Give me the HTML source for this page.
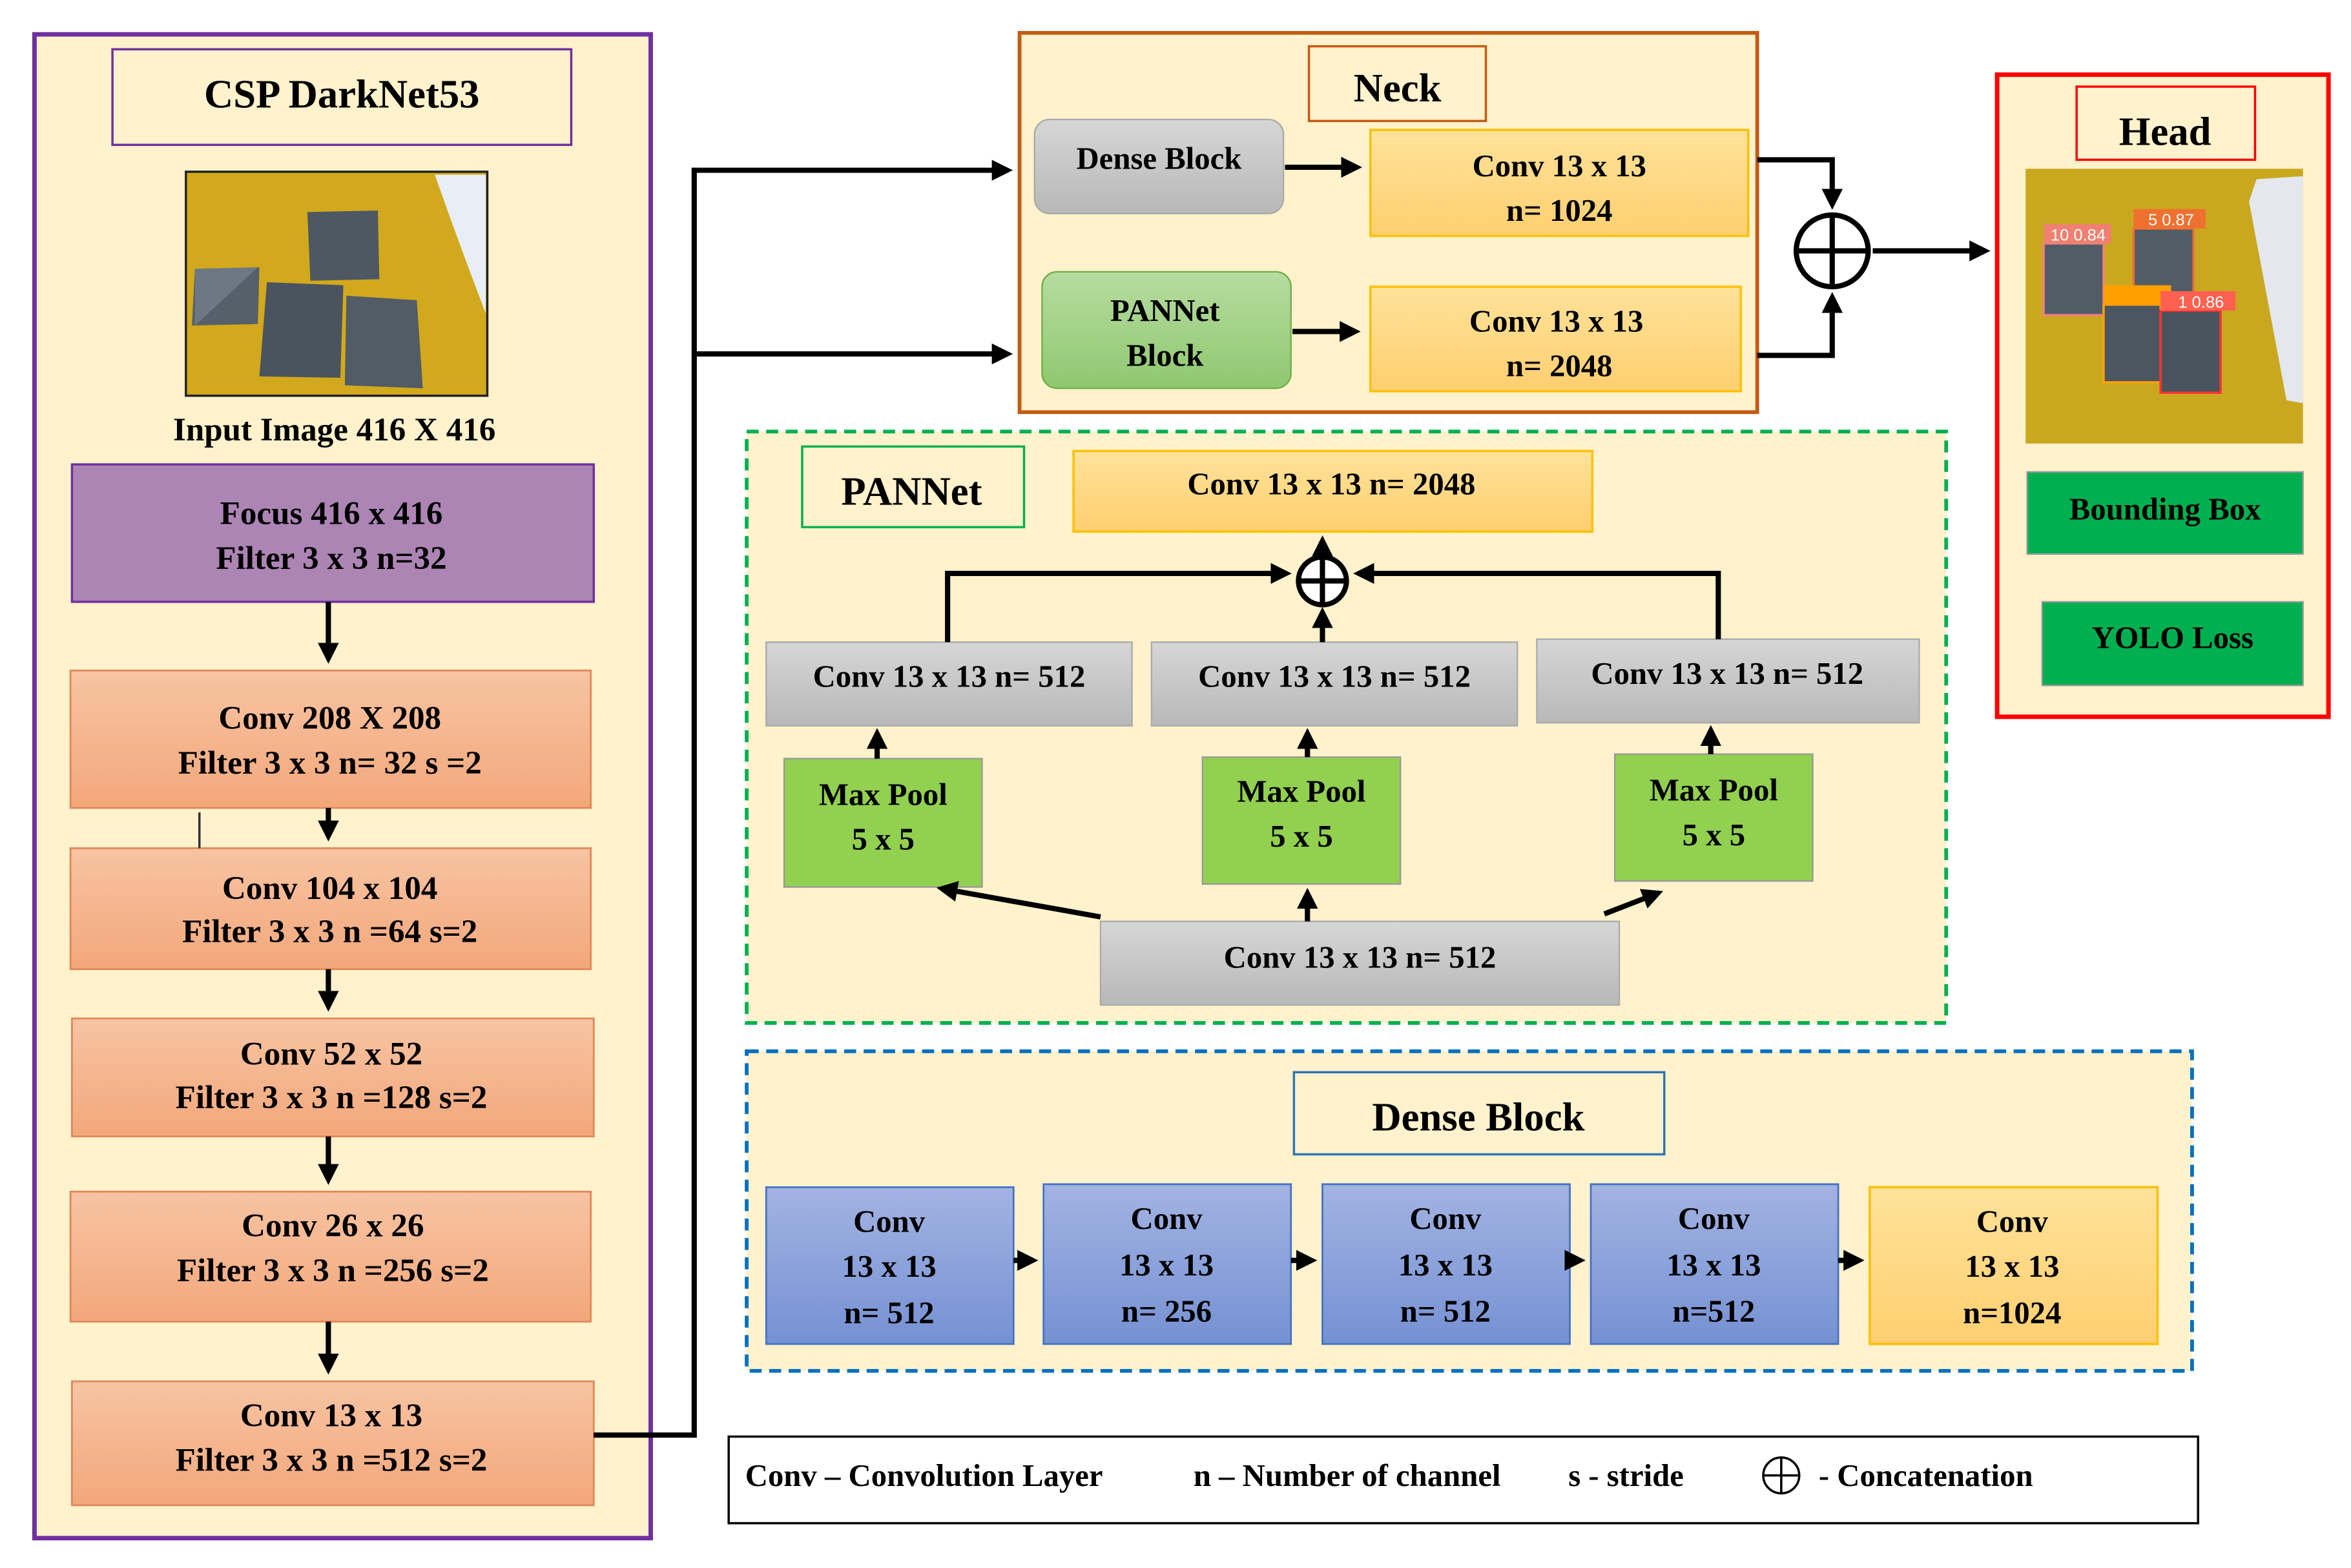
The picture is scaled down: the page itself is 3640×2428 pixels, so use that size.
<!DOCTYPE html>
<html><head><meta charset="utf-8"><style>
html,body{margin:0;padding:0;background:#fff;}
svg{display:block}
text{font-family:"Liberation Serif",serif;font-weight:bold;fill:#000;text-anchor:middle;}
</style></head><body>
<svg width="3640" height="2428" viewBox="0 0 1568 1050" preserveAspectRatio="none" xmlns="http://www.w3.org/2000/svg">
<defs>
<linearGradient id="sal" x1="0" y1="0" x2="0" y2="1"><stop offset="0" stop-color="#f7c4a3"/><stop offset="1" stop-color="#f3a77a"/></linearGradient>
<linearGradient id="yel" x1="0" y1="0" x2="0" y2="1"><stop offset="0" stop-color="#ffe29a"/><stop offset="1" stop-color="#ffcf70"/></linearGradient>
<linearGradient id="gry" x1="0" y1="0" x2="0" y2="1"><stop offset="0" stop-color="#d6d6d6"/><stop offset="1" stop-color="#b8b8b8"/></linearGradient>
<linearGradient id="blu" x1="0" y1="0" x2="0" y2="1"><stop offset="0" stop-color="#a3b3e2"/><stop offset="1" stop-color="#7591d3"/></linearGradient>
<linearGradient id="grn" x1="0" y1="0" x2="0" y2="1"><stop offset="0" stop-color="#b7dca0"/><stop offset="1" stop-color="#8fc870"/></linearGradient>
<marker id="ah" markerWidth="4" markerHeight="4" refX="3" refY="2" orient="auto" markerUnits="strokeWidth"><path d="M0,0 L4,2 L0,4 Z" fill="#000"/></marker>
</defs>

<!-- Left panel -->
<rect x="23" y="23" width="411" height="1007" fill="#fff2cc" stroke="#7030a0" stroke-width="3"/>
<rect x="75" y="33" width="306" height="64" fill="#fff2cc" stroke="#7030a0" stroke-width="1.5"/>
<text x="228" y="72" font-size="27">CSP DarkNet53</text>
<rect x="124" y="115" width="201" height="150" fill="#d2a91c" stroke="#222" stroke-width="1.5"/>
<path d="M290,117 L324,117 L324,210 Q305,160 290,117Z" fill="#e8eef6"/>
<polygon points="130,180 173,179 172,217 128,218" fill="#56606b"/>
<polygon points="130,218 172,179 130,180" fill="#6e7884"/>
<polygon points="205,142 252,141 253,187 207,188" fill="#4e5862"/>
<polygon points="178,189 229,191 227,253 173,252" fill="#4a545e"/>
<polygon points="231,198 278,201 282,260 230,258" fill="#525c66"/>
<text x="223" y="295" font-size="22">Input Image 416 X 416</text>

<rect x="48" y="311" width="348" height="92" fill="#ad85b5" stroke="#7030a0" stroke-width="1.5"/>
<text x="221" y="351" font-size="22">Focus 416 x 416</text>
<text x="221" y="381" font-size="22">Filter 3 x 3 n=32</text>

<g stroke="#e0875a" stroke-width="1.2" fill="url(#sal)">
<rect x="47" y="449" width="347" height="92"/>
<rect x="47" y="568" width="347" height="81"/>
<rect x="48" y="682" width="348" height="79"/>
<rect x="47" y="798" width="347" height="87"/>
<rect x="48" y="925" width="348" height="83"/>
</g>
<text x="220" y="488" font-size="22">Conv 208 X 208</text>
<text x="220" y="518" font-size="22">Filter 3 x 3 n= 32 s =2</text>
<text x="220" y="602" font-size="22">Conv 104 x 104</text>
<text x="220" y="631" font-size="22">Filter 3 x 3 n =64 s=2</text>
<text x="221" y="713" font-size="22">Conv 52 x 52</text>
<text x="221" y="742" font-size="22">Filter 3 x 3 n =128 s=2</text>
<text x="222" y="828" font-size="22">Conv 26 x 26</text>
<text x="222" y="858" font-size="22">Filter 3 x 3 n =256 s=2</text>
<text x="221" y="955" font-size="22">Conv 13 x 13</text>
<text x="221" y="985" font-size="22">Filter 3 x 3 n =512 s=2</text>
<line x1="133" y1="544" x2="133" y2="568" stroke="#333" stroke-width="1.5"/>

<g stroke="#000" stroke-width="3.5" fill="none" marker-end="url(#ah)">
<line x1="219" y1="403" x2="219" y2="441"/>
<line x1="219" y1="541" x2="219" y2="560"/>
<line x1="219" y1="649" x2="219" y2="674"/>
<line x1="219" y1="761" x2="219" y2="790"/>
<line x1="219" y1="885" x2="219" y2="917"/>
</g>
<g stroke="#000" stroke-width="3.5" fill="none">
<polyline points="396,961 463,961 463,114 672,114" marker-end="url(#ah)"/>
<polyline points="463,237 672,237" marker-end="url(#ah)"/>
</g>

<!-- Neck -->
<rect x="680" y="22" width="492" height="254" fill="#fff2cc" stroke="#c55a11" stroke-width="2.5"/>
<rect x="873" y="31" width="118" height="50" fill="#fff2cc" stroke="#c55a11" stroke-width="1.5"/>
<text x="932" y="68" font-size="27">Neck</text>
<rect x="690" y="80" width="166" height="63" rx="10" fill="url(#gry)" stroke="#aaa"/>
<text x="773" y="113" font-size="21">Dense Block</text>
<rect x="914" y="87" width="252" height="71" fill="url(#yel)" stroke="#ffc000" stroke-width="1.5"/>
<text x="1040" y="118" font-size="21">Conv 13 x 13</text>
<text x="1040" y="148" font-size="21">n= 1024</text>
<rect x="695" y="182" width="166" height="78" rx="10" fill="url(#grn)" stroke="#70ad47"/>
<text x="777" y="215" font-size="21">PANNet</text>
<text x="777" y="245" font-size="21">Block</text>
<rect x="914" y="192" width="247" height="70" fill="url(#yel)" stroke="#ffc000" stroke-width="1.5"/>
<text x="1038" y="222" font-size="21">Conv 13 x 13</text>
<text x="1040" y="252" font-size="21">n= 2048</text>
<g stroke="#000" stroke-width="3.5" fill="none">
<line x1="857" y1="112" x2="905" y2="112" marker-end="url(#ah)"/>
<line x1="862" y1="222" x2="904" y2="222" marker-end="url(#ah)"/>
<polyline points="1172,107 1222,107 1222,137" marker-end="url(#ah)"/>
<polyline points="1172,238 1222,238 1222,199" marker-end="url(#ah)"/>
<line x1="1249" y1="168" x2="1324" y2="168" marker-end="url(#ah)"/>
<circle cx="1222" cy="168" r="24" fill="#fff"/>
<line x1="1198" y1="168" x2="1246" y2="168"/>
<line x1="1222" y1="144" x2="1222" y2="192"/>
</g>

<!-- Head -->
<rect x="1332" y="50" width="221" height="430" fill="#fff2cc" stroke="#ff0000" stroke-width="3"/>
<rect x="1385" y="58" width="119" height="49" fill="#fff2cc" stroke="#ff0000" stroke-width="1.5"/>
<text x="1444" y="97" font-size="27">Head</text>
<rect x="1351" y="113" width="185" height="184" fill="#c9a820"/>
<polygon points="1505,120 1536,118 1536,270 1525,268 1500,135" fill="#e4e8ee"/>
<rect x="1363" y="163" width="40" height="48" fill="#525c66" stroke="#f08080" stroke-width="1.5"/>
<rect x="1363" y="150" width="45" height="13" fill="#f08070"/>
<text x="1386" y="161" font-size="11" style="fill:#fff;font-family:'Liberation Sans',sans-serif;font-weight:normal">10 0.84</text>
<rect x="1423" y="153" width="40" height="45" fill="#525c66" stroke="#f07030" stroke-width="1.5"/>
<rect x="1423" y="140" width="48" height="13" fill="#f07030"/>
<text x="1448" y="151" font-size="11" style="fill:#fff;font-family:'Liberation Sans',sans-serif;font-weight:normal">5 0.87</text>
<rect x="1403" y="204" width="38" height="52" fill="#4c5660" stroke="#ffa000" stroke-width="1.5"/>
<rect x="1403" y="191" width="45" height="13" fill="#ffa000"/>
<rect x="1441" y="208" width="40" height="55" fill="#4a545e" stroke="#ff3030" stroke-width="1.5"/>
<rect x="1441" y="195" width="50" height="13" fill="#ff6050"/>
<text x="1468" y="206" font-size="11" style="fill:#fff;font-family:'Liberation Sans',sans-serif;font-weight:normal">1 0.86</text>
<rect x="1352" y="316" width="184" height="55" fill="#00b050" stroke="#999"/>
<text x="1444" y="348" font-size="21">Bounding Box</text>
<rect x="1362" y="403" width="174" height="56" fill="#00b050" stroke="#999"/>
<text x="1449" y="434" font-size="21">YOLO Loss</text>

<!-- PANNet -->
<rect x="498" y="289" width="800" height="396" fill="#fff2cc" stroke="#00b050" stroke-width="2.5" stroke-dasharray="8,5"/>
<rect x="535" y="299" width="148" height="54" fill="#fff2cc" stroke="#00b050" stroke-width="1.5"/>
<text x="608" y="338" font-size="27">PANNet</text>
<rect x="716" y="302" width="346" height="54" fill="url(#yel)" stroke="#ffc000" stroke-width="1.5"/>
<text x="888" y="331" font-size="21">Conv 13 x 13 n= 2048</text>
<g fill="url(#gry)" stroke="#aaa">
<rect x="511" y="430" width="244" height="56"/>
<rect x="768" y="430" width="244" height="56"/>
<rect x="1025" y="428" width="255" height="56"/>
<rect x="734" y="617" width="346" height="56"/>
</g>
<text x="633" y="460" font-size="21">Conv 13 x 13 n= 512</text>
<text x="890" y="460" font-size="21">Conv 13 x 13 n= 512</text>
<text x="1152" y="458" font-size="21">Conv 13 x 13 n= 512</text>
<text x="907" y="648" font-size="21">Conv 13 x 13 n= 512</text>
<g fill="#92d050" stroke="#999">
<rect x="523" y="508" width="132" height="86"/>
<rect x="802" y="507" width="132" height="85"/>
<rect x="1077" y="505" width="132" height="85"/>
</g>
<text x="589" y="539" font-size="21">Max Pool</text><text x="589" y="569" font-size="21">5 x 5</text>
<text x="868" y="537" font-size="21">Max Pool</text><text x="868" y="567" font-size="21">5 x 5</text>
<text x="1143" y="536" font-size="21">Max Pool</text><text x="1143" y="566" font-size="21">5 x 5</text>
<g stroke="#000" stroke-width="3.5" fill="none">
<line x1="585" y1="508" x2="585" y2="491" marker-end="url(#ah)"/>
<line x1="872" y1="507" x2="872" y2="491" marker-end="url(#ah)"/>
<line x1="1141" y1="505" x2="1141" y2="489" marker-end="url(#ah)"/>
<line x1="872" y1="617" x2="872" y2="598" marker-end="url(#ah)"/>
<line x1="734" y1="614" x2="628" y2="595" marker-end="url(#ah)"/>
<line x1="1070" y1="612" x2="1106" y2="598" marker-end="url(#ah)"/>
<polyline points="632,430 632,384 858,384" marker-end="url(#ah)"/>
<polyline points="1146,428 1146,384 906,384" marker-end="url(#ah)"/>
<line x1="882" y1="430" x2="882" y2="410" marker-end="url(#ah)"/>
<line x1="882" y1="372" x2="882" y2="362" marker-end="url(#ah)"/>
<circle cx="882" cy="389" r="16" fill="#fff"/>
<line x1="866" y1="389" x2="898" y2="389"/>
<line x1="882" y1="373" x2="882" y2="405"/>
</g>

<!-- Dense Block -->
<rect x="498" y="704" width="964" height="214" fill="#fff2cc" stroke="#0070c0" stroke-width="2.5" stroke-dasharray="8,5"/>
<rect x="863" y="718" width="247" height="55" fill="#fff2cc" stroke="#2e75b6" stroke-width="1.5"/>
<text x="986" y="757" font-size="27">Dense Block</text>
<g fill="url(#blu)" stroke="#4472c4" stroke-width="1.2">
<rect x="511" y="795" width="165" height="105"/>
<rect x="696" y="793" width="165" height="107"/>
<rect x="882" y="793" width="165" height="107"/>
<rect x="1061" y="793" width="165" height="107"/>
</g>
<rect x="1247" y="795" width="192" height="105" fill="url(#yel)" stroke="#ffc000" stroke-width="1.5"/>
<g font-size="21">
<text x="593" y="825">Conv</text><text x="593" y="855">13 x 13</text><text x="593" y="886">n= 512</text>
<text x="778" y="823">Conv</text><text x="778" y="854">13 x 13</text><text x="778" y="885">n= 256</text>
<text x="964" y="823">Conv</text><text x="964" y="854">13 x 13</text><text x="964" y="885">n= 512</text>
<text x="1143" y="823">Conv</text><text x="1143" y="854">13 x 13</text><text x="1143" y="885">n=512</text>
<text x="1342" y="825">Conv</text><text x="1342" y="855">13 x 13</text><text x="1342" y="886">n=1024</text>
</g>
<g stroke="#000" stroke-width="3.5" fill="none">
<line x1="676" y1="844" x2="689" y2="844" marker-end="url(#ah)"/>
<line x1="861" y1="844" x2="875" y2="844" marker-end="url(#ah)"/>
<line x1="1047" y1="844" x2="1054" y2="844" marker-end="url(#ah)"/>
<line x1="1226" y1="844" x2="1240" y2="844" marker-end="url(#ah)"/>
</g>

<!-- Legend -->
<rect x="486" y="962" width="980" height="58" fill="#fff" stroke="#000" stroke-width="1.5"/>
<g font-size="21" style="text-anchor:start">
<text x="497" y="995" style="text-anchor:start">Conv – Convolution Layer</text>
<text x="796" y="995" style="text-anchor:start">n – Number of channel</text>
<text x="1046" y="995" style="text-anchor:start">s - stride</text>
<text x="1213" y="995" style="text-anchor:start">- Concatenation</text>
</g>
<circle cx="1188" cy="988" r="12" fill="none" stroke="#000" stroke-width="1.5"/>
<line x1="1176" y1="988" x2="1200" y2="988" stroke="#000" stroke-width="1.5"/>
<line x1="1188" y1="976" x2="1188" y2="1000" stroke="#000" stroke-width="1.5"/>
</svg>
</body></html>
